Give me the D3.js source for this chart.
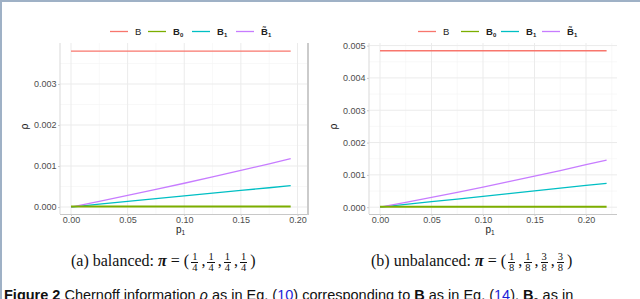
<!DOCTYPE html>
<html>
<head>
<meta charset="utf-8">
<script src="https://cdn.jsdelivr.net/npm/d3@7"></script>
<style>
  body { margin: 0; background: #fff; }
  #wrap { position: relative; width: 640px; height: 299px; overflow: hidden; }
  svg { position: absolute; left: 0; top: 0; }
  .cap { position: absolute; font-family: "Liberation Serif", "DejaVu Serif", serif; font-size: 16px; line-height: 22px; color: #111; white-space: nowrap; }
  .frac { display: inline-block; vertical-align: middle; text-align: center; font-size: 10.5px; line-height: 10px; margin: 0 3px 0 2px; }
  .frac span { display: block; }
  .frac .num { border-bottom: 0.7px solid #111; padding: 0 1px; }
  .fig { position: absolute; left: 4px; top: 287px; font-family: "Liberation Sans", Arial, sans-serif; font-size: 14.5px; color: #111; white-space: nowrap; }
  .fig a { color: #1d1dd6; text-decoration: none; }
</style>
</head>
<body>
<div id="wrap"></div>
<script>
// series names and colours (ggplot default hue)
const seriesNames = ['B', 'B0', 'B1', 'B1t'];
const seriesColors = ['#F8766D', '#7CAE00', '#00BFC4', '#C77CFF'];

// panel (a): balanced
const p1A = [0, 0.025, 0.05, 0.075, 0.1, 0.125, 0.15, 0.175, 0.194];
const bA = [0.0038, 0.0038, 0.0038, 0.0038, 0.0038, 0.0038, 0.0038, 0.0038, 0.0038];
const b0A = [0.000015, 0.000015, 0.000015, 0.000015, 0.000015, 0.000015, 0.000015, 0.000015, 0.000015];
const b1A = [0, 0.00007, 0.000136, 0.000203, 0.00027, 0.000338, 0.000405, 0.00047, 0.00052];
const b1tA = [0, 0.000139, 0.000283, 0.000429, 0.00058, 0.000734, 0.000893, 0.001054, 0.00118];
const yTicksA = [0, 0.001, 0.002, 0.003];

// panel (b): unbalanced
const p1B = [0, 0.025, 0.05, 0.075, 0.1, 0.125, 0.15, 0.175, 0.2, 0.22];
const bB = [0.00484, 0.00484, 0.00484, 0.00484, 0.00484, 0.00484, 0.00484, 0.00484, 0.00484, 0.00484];
const b0B = [0.000015, 0.000015, 0.000015, 0.000015, 0.000015, 0.000015, 0.000015, 0.000015, 0.000015, 0.000015];
const b1B = [0, 0.000085, 0.00017, 0.000253, 0.000337, 0.00042, 0.000505, 0.00059, 0.000673, 0.00074];
const b1tB = [0, 0.00015, 0.000304, 0.000462, 0.000624, 0.00079, 0.00096, 0.001135, 0.001314, 0.00146];
const yTicksB = [0, 0.001, 0.002, 0.003, 0.004, 0.005];

const xTicks = [0, 0.05, 0.10, 0.15, 0.20];

const W = 640, H = 299;
const svg = d3.select('#wrap').append('svg').attr('width', W).attr('height', H);

// page frame edges
svg.append('rect').attr('x', 0).attr('y', 0).attr('width', W).attr('height', 2).attr('fill', '#9fb1c6');
svg.append('rect').attr('x', 0).attr('y', 0).attr('width', 2).attr('height', H).attr('fill', '#9fb1c6');

function drawPanel(params) {
    const { left, right, top, bottom, xDomain, yDomain, p1, series, yTicks, legendX, rightEdge } = params;
    const x = d3.scaleLinear().domain(xDomain).range([left, right]);
    const y = d3.scaleLinear().domain(yDomain).range([bottom, top]);
    const g = svg.append('g');

    // minor grid
    const xMinor = d3.range(0.025, xDomain[1], 0.05);
    const yMinor = yTicks.map(d => d + 0.0005).filter(d => d < yDomain[1]);
    g.selectAll('.xmin').data(xMinor).enter().append('line')
        .attr('x1', d => x(d)).attr('x2', d => x(d)).attr('y1', top).attr('y2', bottom)
        .attr('stroke', '#f4f4f4').attr('stroke-width', 0.6);
    g.selectAll('.ymin').data(yMinor).enter().append('line')
        .attr('y1', d => y(d)).attr('y2', d => y(d)).attr('x1', left).attr('x2', right)
        .attr('stroke', '#f4f4f4').attr('stroke-width', 0.6);
    // major grid
    g.selectAll('.xmaj').data(xTicks.filter(d => x(d) < right)).enter().append('line')
        .attr('x1', d => x(d)).attr('x2', d => x(d)).attr('y1', top).attr('y2', bottom)
        .attr('stroke', '#ebebeb').attr('stroke-width', 1);
    g.selectAll('.ymaj').data(yTicks).enter().append('line')
        .attr('y1', d => y(d)).attr('y2', d => y(d)).attr('x1', left).attr('x2', right)
        .attr('stroke', '#ebebeb').attr('stroke-width', 1);

    // axis lines
    g.append('line').attr('x1', left).attr('x2', left).attr('y1', top).attr('y2', bottom)
        .attr('stroke', '#e0e0e0').attr('stroke-width', 1.2);
    g.append('line').attr('x1', left).attr('x2', right).attr('y1', bottom + 0.5).attr('y2', bottom + 0.5)
        .attr('stroke', '#c8c8c8').attr('stroke-width', 1);
    if (rightEdge) {
        g.append('line').attr('x1', right + 1).attr('x2', right + 1).attr('y1', top).attr('y2', bottom + 1)
            .attr('stroke', '#a8a8a8').attr('stroke-width', 1.2);
    }

    // axes
    const yAxis = g.append('g').attr('transform', `translate(${left},0)`)
        .call(d3.axisLeft(y).tickValues(yTicks).tickFormat(d3.format('.3f')).tickSize(2).tickPadding(1.5));
    const xAxis = g.append('g').attr('transform', `translate(0,${bottom})`)
        .call(d3.axisBottom(x).tickValues(xTicks).tickFormat(d3.format('.2f')).tickSize(2).tickPadding(0.5));
    [xAxis, yAxis].forEach(a => {
        a.select('.domain').remove();
        a.selectAll('line').attr('stroke', '#cccccc');
        a.selectAll('text').attr('fill', '#4d4d4d').style('font-family', 'Liberation Sans, Arial, sans-serif').style('font-size', '9px');
    });

    // lines
    const line = d3.line().x((d, i) => x(p1[i])).y(d => y(d));
    const order = [0, 2, 3, 1];
    order.forEach(k => {
        g.append('path').datum(series[k]).attr('d', line)
            .attr('fill', 'none').attr('stroke', seriesColors[k])
            .attr('stroke-width', k === 1 ? 2 : 1.3);
    });

    // axis titles
    g.append('text').attr('transform', `translate(${left - 32},${(top + bottom) / 2 - 2}) rotate(-90)`)
        .attr('text-anchor', 'middle').style('font-family', 'DejaVu Sans, sans-serif').style('font-size', '10px')
        .attr('fill', '#222').text('ρ');
    const xt = g.append('text').attr('x', (left + right) / 2 - 3).attr('y', bottom + 19)
        .attr('text-anchor', 'middle').style('font-family', 'Liberation Sans, Arial, sans-serif').style('font-size', '10px')
        .attr('fill', '#222');
    xt.append('tspan').text('p');
    xt.append('tspan').attr('dy', 2).style('font-size', '6.5px').text('1');

    // legend
    const labels = [['B', ''], ['B', '0'], ['B', '1'], ['B̃', '1']];
    const ly = 31.5;
    legendX.forEach((lx, k) => {
        g.append('line').attr('x1', lx).attr('x2', lx + 18).attr('y1', ly).attr('y2', ly)
            .attr('stroke', seriesColors[k]).attr('stroke-width', 1.3);
        const t = g.append('text').attr('x', lx + 25).attr('y', ly + 3.5)
            .style('font-family', 'Liberation Sans, Arial, sans-serif').style('font-size', '9.5px')
            .style('font-weight', k === 0 ? 'normal' : 'bold').attr('fill', '#222');
        t.append('tspan').text(labels[k][0]);
        if (labels[k][1]) t.append('tspan').attr('dy', 2).style('font-size', '6px').text(labels[k][1]);
    });
}

drawPanel({
    left: 60, right: 307, top: 43, bottom: 214,
    xDomain: [-0.0097, 0.2084], yDomain: [-0.00017, 0.0040],
    p1: p1A, series: [bA, b0A, b1A, b1tA], yTicks: yTicksA,
    legendX: [110, 148, 192, 236], rightEdge: true
});
drawPanel({
    left: 369, right: 617, top: 43, bottom: 214,
    xDomain: [-0.0107, 0.2301], yDomain: [-0.00021, 0.00508],
    p1: p1B, series: [bB, b0B, b1B, b1tB], yTicks: yTicksB,
    legendX: [418, 461, 501, 542], rightEdge: false
});

// captions
function frac(n, d) {
    return `<span class="frac"><span class="num">${n}</span><span>${d}</span></span>`;
}
const wrap = d3.select('#wrap');
wrap.append('div').attr('class', 'cap').style('left', '71px').style('top', '250px')
    .html(`(a) balanced: <b><i>π</i></b> = (${frac(1,4)},${frac(1,4)},${frac(1,4)},${frac(1,4)})`);
wrap.append('div').attr('class', 'cap').style('left', '371px').style('top', '250px')
    .html(`(b) unbalanced: <b><i>π</i></b> = (${frac(1,8)},${frac(1,8)},${frac(3,8)},${frac(3,8)})`);
wrap.append('div').attr('class', 'fig')
    .html(`<b>Figure 2</b> Chernoff information <i>ρ</i> as in Eq. (<a>10</a>) corresponding to <b>B</b> as in Eq. (<a>14</a>). <b>B</b><sub style="font-size:9px">0</sub> as in`);
</script>
</body>
</html>
